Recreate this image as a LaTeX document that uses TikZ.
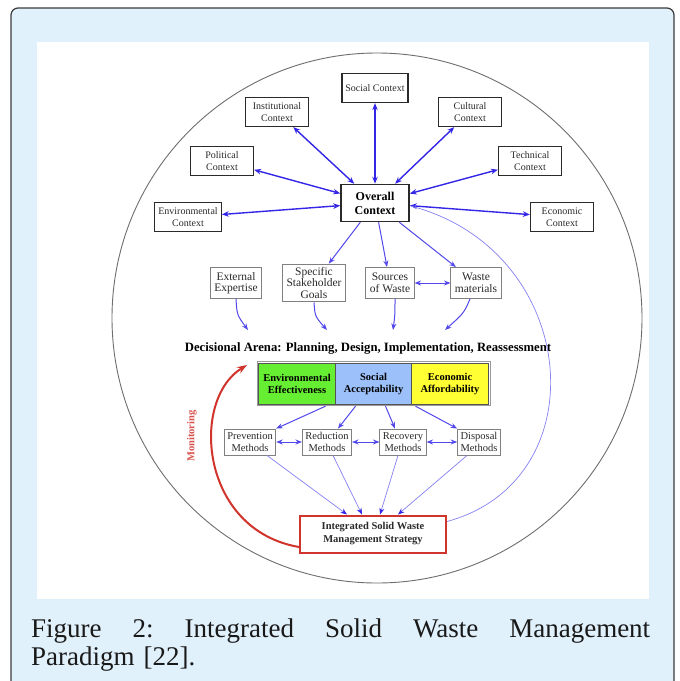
\documentclass[tikz,border=0pt]{standalone}
\usepackage{fontspec}
\setmainfont{Liberation Serif}
\usetikzlibrary{arrows.meta,positioning,calc,fit}
\definecolor{frameblue}{HTML}{E1F1FB}
\definecolor{frameline}{HTML}{3A3A3A}
\definecolor{ringgray}{HTML}{6E6E6E}
\definecolor{arrblue}{HTML}{3326E6}
\definecolor{lightblue}{HTML}{8581F2}
\definecolor{boxink}{HTML}{2A2A2A}
\definecolor{boxgray}{HTML}{808080}
\definecolor{envgreen}{HTML}{66EE33}
\definecolor{socblue}{HTML}{9CC0FA}
\definecolor{ecoyellow}{HTML}{FFFF33}
\definecolor{stratred}{HTML}{D0342C}
\tikzset{
  ctx/.style={rectangle,draw=boxink,line width=1.2pt,fill=white,align=center,
              font=\fontsize{10}{12}\selectfont,text=boxink,inner xsep=3.5pt,
              minimum width=63pt,minimum height=29pt},
  hub/.style={rectangle,draw=boxink,line width=1.5pt,fill=white,align=center,
              font=\fontsize{12}{14}\selectfont\bfseries,text=black,
              minimum width=68pt,minimum height=37pt},
  inbox/.style={rectangle,draw=boxgray,line width=0.9pt,fill=white,align=center,
                font=\fontsize{11.5}{11.5}\selectfont,text=boxink,inner xsep=4pt,
                minimum height=31pt},
  arena/.style={font=\fontsize{12.7}{14}\selectfont\bfseries,text=black,inner sep=0pt},
  pillar/.style={rectangle,draw=boxink!80,line width=0.8pt,align=center,outer sep=0pt,
                 font=\fontsize{10.5}{12}\selectfont\bfseries,text=black,
                 minimum width=76.5pt,minimum height=41pt},
  method/.style={rectangle,draw=boxgray,line width=0.9pt,fill=white,align=center,
                 font=\fontsize{10.5}{11.5}\selectfont,text=boxink,inner xsep=3pt,
                 minimum height=26pt},
  strategy/.style={rectangle,draw=stratred,line width=2pt,fill=white,align=center,
                   font=\fontsize{10.5}{13}\selectfont\bfseries,text=boxink,
                   minimum width=146pt,minimum height=37pt},
  monitor/.style={rotate=90,text=stratred!85,font=\fontsize{10.5}{12}\selectfont\bfseries},
  ctxlink/.style={{Stealth[length=7pt,width=5.5pt]}-{Stealth[length=7pt,width=5.5pt]},
                  line width=1.4pt,draw=arrblue},
  flow/.style={-{Stealth[length=6.5pt,width=5pt]},line width=1pt,draw=arrblue!85},
  duo/.style={{Stealth[length=6.5pt,width=5pt]}-{Stealth[length=6.5pt,width=5pt]},
              line width=1pt,draw=arrblue!85},
  feedline/.style={-{Stealth[length=6.5pt,width=5pt,color=arrblue]},
                   line width=0.7pt,draw=lightblue},
  mon/.style={-{Stealth[length=10pt,width=7pt]},line width=2pt,draw=stratred},
}
\begin{document}
\begin{tikzpicture}[x=1pt,y=-1pt]
  \useasboundingbox (0,0) rectangle (680,681);
  % frame and ring
  \draw[frameline,fill=frameblue,line width=1.2pt,rounded corners=7pt] (11,8) rectangle (674,700);
  \fill[white] (37,42) rectangle (649,599);
  \draw[ringgray,line width=0.9pt] (377,318) circle[radius=265pt];
  % contexts
  \node[ctx] (social) at (375,88) {Social Context};
  \node[ctx] (inst) at (277,112) {Institutional\\Context};
  \node[ctx] (cult) at (470,112) {Cultural\\Context};
  \node[ctx] (polit) at (222,161) {Political\\Context};
  \node[ctx] (tech) at (530,161) {Technical\\Context};
  \node[ctx] (envc) at (188,217) {Environmental\\Context};
  \node[ctx] (econ) at (562,217) {Economic\\Context};
  \node[hub] (overall) at (375,203) {Overall\\Context};
  \foreach \c in {social,inst,cult,polit,tech,envc,econ}
    \draw[ctxlink] (overall) -- (\c);
  % inputs to the arena
  \node[inbox] (expert) at (236,283) {External\\Expertise};
  \node[inbox] (goals) at (314,283) {Specific\\Stakeholder\\Goals};
  \node[inbox] (sources) at (390,283) {Sources\\of Waste};
  \node[inbox] (materials) at (476,283) {Waste\\materials};
  \draw[flow] (overall) -- (goals);
  \draw[flow] (overall) -- (sources);
  \draw[flow] (overall) -- (materials);
  \draw[duo] (sources) -- (materials);
  \node[arena] (arena) at (368,348) {Decisional Arena: Planning, Design, Implementation, Reassessment};
  \coordinate (a1) at (248,330);
  \coordinate (a2) at (327,330);
  \coordinate (a3) at (393,330);
  \coordinate (a4) at (445,330);
  \draw[flow] (expert.south) .. controls +(1,16) .. (a1);
  \draw[flow] (goals.south) .. controls +(1,14) .. (a2);
  \draw[flow] ($(sources.south)+(5,0)$) .. controls +(0,16) .. (a3);
  \draw[flow] ($(materials.south)+(-6,0)$) .. controls +(-6,14) .. (a4);
  % pillars
  \node[pillar,fill=socblue] (socp) at (373.5,383.5) {Social\\Acceptability};
  \node[pillar,fill=envgreen,left=0pt of socp] (envp) {Environmental\\Effectiveness};
  \node[pillar,fill=ecoyellow,right=0pt of socp] (ecop) {Economic\\Affordability};
  \node[fit=(envp)(ecop),draw=boxgray!80,line width=0.8pt,inner sep=1.8pt] (pillars) {};
  % methods
  \node[method] (prevent) at (250,442) {Prevention\\Methods};
  \node[method] (reduce) at (327,442) {Reduction\\Methods};
  \node[method] (recover) at (403,442) {Recovery\\Methods};
  \node[method] (dispose) at (479,442) {Disposal\\Methods};
  \draw[flow] ($(pillars.south)+(-48,0)$) -- (prevent.north east);
  \draw[flow] ($(pillars.south)+(-18,0)$) -- ($(reduce.north)+(11,0)$);
  \draw[flow] ($(pillars.south)+(12,0)$) -- ($(recover.north)+(-8,0)$);
  \draw[flow] ($(pillars.south)+(42,0)$) -- (dispose.north west);
  \draw[duo] (prevent) -- (reduce);
  \draw[duo] (reduce) -- (recover);
  \draw[duo] (recover) -- (dispose);
  % strategy
  \node[strategy] (iswm) at (373,534) {Integrated Solid Waste\\Management Strategy};
  \draw[feedline] ($(prevent.south)+(17,0)$) -- ($(iswm.north)+(-26,0)$);
  \draw[feedline] ($(reduce.south)+(6,0)$) -- ($(iswm.north)+(-11,0)$);
  \draw[feedline] ($(recover.south)+(-5,0)$) -- ($(iswm.north)+(7,0)$);
  \draw[feedline] ($(dispose.south)+(-12,0)$) -- ($(iswm.north)+(25,0)$);
  \draw[lightblue,line width=0.7pt] ($(iswm.north east)+(0,7)$) .. controls (600,480) and (580,250) .. ($(overall.east)+(1,3)$);
  % monitoring loop
  \coordinate (m1) at (247,365);
  \draw[mon] ($(iswm.west)+(0,13)$) .. controls (200,530) and (190,400) .. (m1);
  \node[monitor] (monitoring) at (192,436) {Monitoring};
  % caption
  \node[anchor=north west,inner sep=0pt,text width=619pt,align=left,
        font=\fontsize{27}{28}\selectfont,text=black!90] (caption) at (31,619)
    {\makebox[619pt]{Figure\hfill 2:\hfill Integrated\hfill Solid\hfill Waste\hfill Management}\\Paradigm [22].};
\end{tikzpicture}
\end{document}
